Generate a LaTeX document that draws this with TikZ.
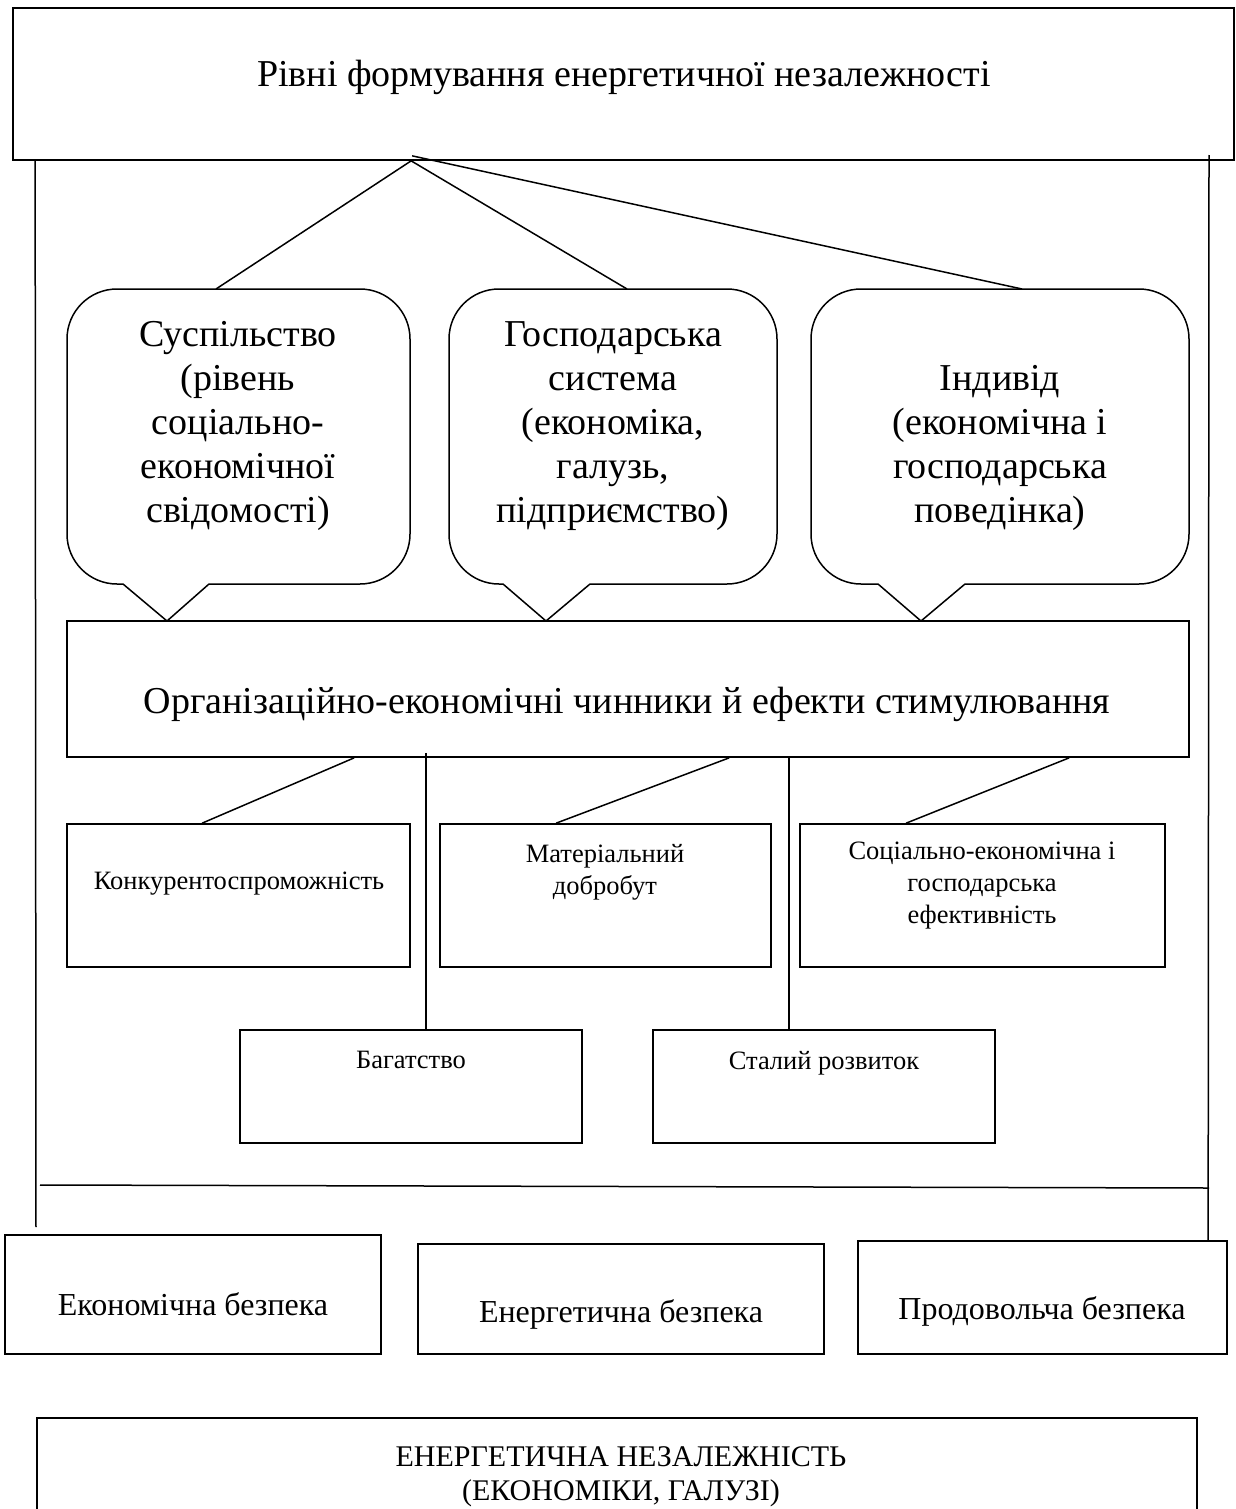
\documentclass[tikz,border=0pt]{standalone}
\usepackage{fontspec}
\setmainfont{Liberation Serif}
\usetikzlibrary{fit}
\begin{document}
\begin{tikzpicture}[x=1pt,y=-1pt,
  box/.style={draw, line width=1.7pt, inner sep=0pt},
  ln/.style={line width=1.5pt},
  big/.style={inner sep=0pt, align=center, anchor=north, font=\fontsize{38}{44}\selectfont},
  small/.style={inner sep=0pt, align=center, anchor=north, font=\fontsize{26.5}{32}\selectfont},
  mid/.style={inner sep=0pt, align=center, anchor=north, font=\fontsize{32}{37}\selectfont},
  fin/.style={inner sep=0pt, align=center, anchor=north, font=\fontsize{30}{34}\selectfont},
]
\useasboundingbox (0,0) rectangle (1235,1509);

% top box
\node[box, fit={(13,8) (1234,160)}] (top) {};
\node[big] (toptxt) at (624,60) {Рівні формування енергетичної незалежності};

% callouts
\draw[ln] (123,584) -- (167,621) -- (209,584);
\draw[ln, rounded corners=50pt] (209,584) -- (410,584) -- (410,289) -- (67,289) -- (67,584) -- (123,584);
\draw[ln] (503,584) -- (546,621) -- (590,584);
\draw[ln, rounded corners=50pt] (590,584) -- (777,584) -- (777,289) -- (449,289) -- (449,584) -- (503,584);
\draw[ln] (878,584) -- (921,621) -- (965,584);
\draw[ln, rounded corners=50pt] (965,584) -- (1189,584) -- (1189,289) -- (811,289) -- (811,584) -- (878,584);
\coordinate (c1top) at (216,289);
\coordinate (c2top) at (627,289);
\coordinate (c3top) at (1022,289);

\node[big] (c1txt) at (238,321) {Суспільство\\(рівень\\соціально-\\економічної\\свідомості)};
\node[big] (c2txt) at (613,321) {Господарська\\система\\(економіка,\\галузь,\\підприємство)};
\node[big] (c3txt) at (1000,365) {Індивід\\(економічна і\\господарська\\поведінка)};

% fan from top box
\coordinate (apex) at ([xshift=399pt]top.south west);
\coordinate (apex2) at ([xshift=400pt,yshift=5pt]top.south west);
\draw[ln] (apex) -- (c1top);
\draw[ln] (apex) -- (c2top);
\draw[ln] (apex2) -- (c3top);

% middle box
\node[box, fit={(67,621) (1189,757)}] (midbox) {};
\node[big] (midtxt) at (627,687) {Організаційно-економічні чинники й ефекти стимулювання};

% result boxes
\node[box, fit={(67,824) (410,967)}] (konk) {};
\node[small] (konktxt) at (239,872) {Конкурентоспроможність};
\node[box, fit={(440,824) (771,967)}] (mat) {};
\node[small] (mattxt) at (605,844) {Матеріальний\\добробут};
\node[box, fit={(800,824) (1165,967)}] (soc) {};
\node[small] (soctxt) at (982,842) {Соціально-економічна і\\господарська\\ефективність};
\node[box, fit={(240,1030) (582,1143)}] (bag) {};
\node[small] (bagtxt) at (411,1051) {Багатство};
\node[box, fit={(653,1030) (995,1143)}] (stal) {};
\node[small] (staltxt) at (824,1051) {Сталий розвиток};

% connectors from middle box
\draw[ln] ([xshift=288pt]midbox.south west) -- ([xshift=136pt]konk.north west);
\draw[ln] ([xshift=360pt,yshift=5pt]midbox.south west) -- ([xshift=187pt]bag.north west);
\draw[ln] ([xshift=663pt]midbox.south west) -- ([xshift=117pt]mat.north west);
\draw[ln] ([xshift=723pt]midbox.south west) -- ([xshift=137pt]stal.north west);
\draw[ln] ([xshift=1003pt]midbox.south west) -- ([xshift=107pt]soc.north west);

% security boxes
\node[box, fit={(5,1235) (381,1354)}] (ek) {};
\node[mid] (ektxt) at (193,1292) {Економічна безпека};
\node[box, fit={(418,1244) (824,1354)}] (en) {};
\node[mid] (entxt) at (621,1299) {Енергетична безпека};
\node[box, fit={(858,1241) (1227,1354)}] (prod) {};
\node[mid] (prodtxt) at (1042,1296) {Продовольча безпека};

% side lines
\coordinate (lt) at ([xshift=23pt]top.south west);
\coordinate (lb) at (36,1227);
\draw[ln] (lt) -- (lb);
\coordinate (rt) at (1209,155);
\draw[ln] (rt) -- ([xshift=351pt]prod.north west);
\coordinate (hl) at (40,1185);
\coordinate (hr) at (1209,1188);
\draw[ln] (hl) -- (hr);

% final box
\draw[box] (37,1512) -- (37,1418) -- (1197,1418) -- (1197,1512);
\node[fin] (fintxt) at (621,1446) {ЕНЕРГЕТИЧНА НЕЗАЛЕЖНІСТЬ\\(ЕКОНОМІКИ, ГАЛУЗІ)};
\end{tikzpicture}
\end{document}
